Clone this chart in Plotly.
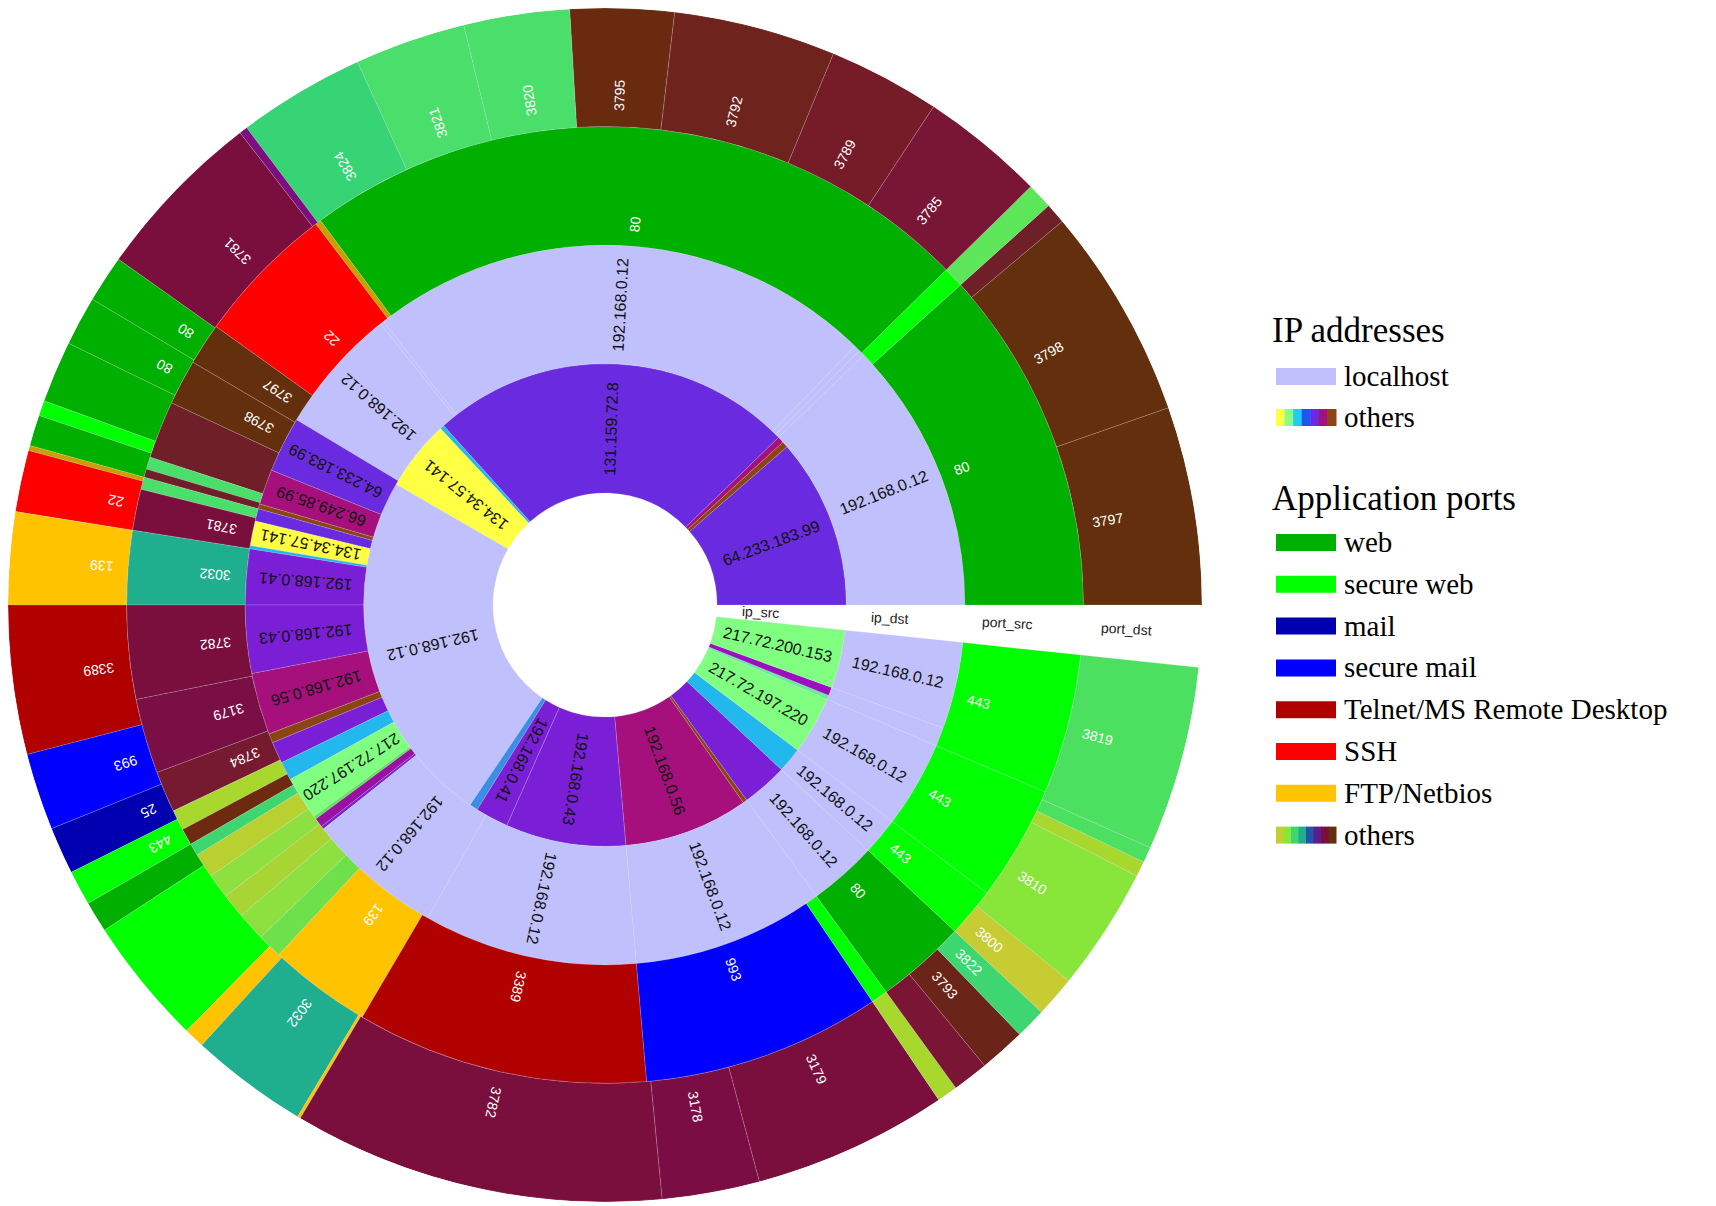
import math
import plotly.graph_objects as go

W, H = 1716, 1206
# ---------------- data (angular extents in degrees, counter-clockwise from east) -------------
LIL = "#c0c0fc"; P1 = "#6a2be0"; P2 = "#7a1fd6"; MAG = "#a5107c"; BRS = "#8b4513"
YEL = "#ffff44"; CYA = "#22b8ee"; LGR = "#80ff80"
WEB = "#00b000"; SWEB = "#00ff00"; MAIL = "#0000b0"; SMAIL = "#0000ff"
TEL = "#b00000"; SSH = "#ff0000"; FTP = "#ffc300"
BRN = "#632f0c"; MAR = "#7a0f3d"; TEAL = "#1fae8e"; LIME = "#a8d82e"; GRN2 = "#4ade6a"

ring1_labels = ["64.233.183.99", "", "", "131.159.72.8", "", "134.34.57.141", "192.168.0.12", "",
                "192.168.0.41", "192.168.0.43", "192.168.0.56", "", "", "", "217.72.197.220", "", "",
                "217.72.200.153"]
ring1_values = [41, 1.5, 1.5, 88, 1, 17, 86, 2, 8, 29, 30, 1, 11, 6, 14, 1, 2, 14]
ring1_colors = [P1, BRS, MAG, P1, CYA, YEL, LIL, "#3a8ee6", P2, P2, MAG, BRS, P2, CYA, LGR,
                "#66ee99", "#9a10c0", LGR]

ring2_labels = ["192.168.0.12", "", "", "192.168.0.12", "", "192.168.0.12", "64.233.183.99",
                "66.249.85.99", "", "", "134.34.57.141", "", "192.168.0.41", "192.168.0.43",
                "192.168.0.56", "", "", "", "217.72.197.220", "", "", "", "192.168.0.12",
                "192.168.0.12", "192.168.0.12", "192.168.0.12", "192.168.0.12", "192.168.0.12",
                "", "192.168.0.12"]
ring2_values = [44, 1, 1, 82, 0.6, 20.4, 9, 5.7, 0.8, 2, 4, 0.5, 9, 11, 10, 1.5, 3.5, 3, 7,
                0.5, 1.5, 0.5, 22, 34.5, 31, 11, 6, 14, 3, 14]
ring2_colors = [LIL, LIL, LIL, LIL, LIL, LIL, P1, MAG, BRS, P1, YEL, CYA, P2, P2, MAG, BRS, P2,
                CYA, LGR, "#5de65a", "#9a10a0", P2, LIL, LIL, LIL, LIL, LIL, LIL, LIL, LIL]

ring3_labels = ["80", "", "80", "", "22", "3797", "3798", "", "", "", "", "3781", "3032", "3782",
                "3179", "3784", "", "", "", "", "", "", "", "", "139", "3389", "993", "", "80",
                "443", "443", "443"]
ring3_values = [42, 2.5, 82, 0.7, 17.2, 5.1, 5.5, 7, 1.5, 1, 1.5, 5, 9, 11.4, 9.1, 5, 2.5, 2,
                1.5, 3, 3, 3, 3.5, 3, 12.5, 35.5, 29, 2, 11, 6, 14, 17]
ring3_colors = [WEB, SWEB, WEB, "#c8a000", SSH, BRN, BRN, "#6e1f28", GRN2, "#6e1f28", GRN2, MAR,
                TEAL, MAR, "#7a0f45", "#761a30", LIME, "#6e2a10", "#3ed670", "#b8d030",
                "#8ee040", "#a8d434", "#8ee040", "#6ee04a", FTP, TEL, SMAIL, SWEB, WEB, SWEB,
                SWEB, SWEB]

ring4_labels = ["3797", "3798", "", "", "3785", "3789", "3792", "3795", "3820", "3821", "3824",
                "", "3781", "80", "80", "", "", "", "", "22", "139", "3389", "993", "25", "443",
                "", "", "", "3032", "", "3782", "3178", "3179", "", "", "3793", "3822", "3800",
                "3810", "", "", "3819"]
ring4_values = [19.3, 20.7, 2, 2.5, 12.1, 10.9, 15.8, 10.1, 10.3, 10.8, 12.4, 0.8, 16.9, 4.6,
                4.8, 6, 1.5, 3, 0.5, 6, 9, 14.5, 7.5, 4.6, 3.4, 3, 12.5, 2, 11.5, 0.3, 36.2,
                9.5, 19, 2, 3.5, 4.5, 3, 4, 12, 1.5, 1.5, 18]
ring4_colors = [BRN, BRN, "#6e1f28", "#5de65a", "#791535", "#751c28", "#6e231c", "#6a2a10",
                GRN2, GRN2, "#37d476", "#7a1080", MAR, WEB, WEB, WEB, SWEB, WEB, "#c8a000",
                SSH, FTP, TEL, SMAIL, MAIL, SWEB, WEB, SWEB, FTP, TEAL, FTP, MAR, "#7b0d45",
                MAR, LIME, "#7a1535", "#6b2418", "#3ed670", "#c8cc33", "#88e63a", LIME,
                "#4ce060", "#4ce060"]

ring_edges = [104, 224, 334, 444, 554]
ring_names = ["ip_src", "ip_dst", "port_src", "port_dst"]

ip_legend = [("localhost", LIL)]
port_legend = [("web", WEB), ("secure web", SWEB), ("mail", MAIL), ("secure mail", SMAIL),
               ("Telnet/MS Remote Desktop", TEL), ("SSH", SSH), ("FTP/Netbios", FTP)]
ip_gradient = ["#ffff44", "#88ff88", "#22ccee", "#2255ee", "#6a2be0", "#a5107c", "#8b4513"]
port_gradient = ["#c8cc33", "#88e63a", "#3ed670", "#1fae8e", "#2255aa", "#5a1e8e", "#7a0f3d",
                 "#632f0c"]

# ---------------- figure ----------------
rings = [(ring1_labels, ring1_values, ring1_colors),
         (ring2_labels, ring2_values, ring2_colors),
         (ring3_labels, ring3_values, ring3_colors),
         (ring4_labels, ring4_values, ring4_colors)]

fig = go.Figure()
R = ring_edges[-1]
DOM = 1194
TOPPAD = 0
cx, cy = DOM / 2, TOPPAD + DOM / 2
scale = (DOM / 2) / R


def to_paper(r, ang):
    a = math.radians(ang)
    px = cx + r * scale * math.cos(a)
    py = cy - r * scale * math.sin(a)
    return px / W, 1 - py / H


annotations = []
for i, (labs, vals, cols) in enumerate(rings):
    inner, outer = ring_edges[i], ring_edges[i + 1]
    mids, start = [], 0.0
    for v in vals:
        mids.append(start + v / 2)
        start += v
    fig.add_trace(go.Barpolar(
        theta=mids, width=vals, base=[inner] * len(vals), r=[outer - inner] * len(vals),
        marker=dict(color=cols, line=dict(color="rgba(220,220,230,0.5)", width=0.4)),
        hoverinfo="skip", showlegend=False))
    for lab, m in zip(labs, mids):
        if not lab:
            continue
        if i < 2:
            rr = (inner + outer) / 2
            col, size = "#111111", 16
        else:
            rr = inner + 12 + 4.3 * len(lab)
            col, size = "white", 14
        x, y = to_paper(rr, m)
        annotations.append(dict(x=x, y=y, xref="paper", yref="paper", text=lab, showarrow=False,
                                xanchor="center", yanchor="middle",
                                textangle=-m, font=dict(family="Liberation Sans", size=size,
                                                        color=col)))

# ring name labels in the gap
for i, nm in enumerate(ring_names):
    x, y = to_paper(ring_edges[i] + 40, -2.6)
    annotations.append(dict(x=x, y=y, xref="paper", yref="paper", text=nm, showarrow=False,
                            xanchor="center", yanchor="middle",
                            textangle=3, font=dict(family="Liberation Sans", size=14,
                                                   color="#222")))

# legend
shapes = []
LX0, LX1, TX = 1268, 1328, 1334
DY = -9


def swatch(ypx, color=None, grad=None):
    ypx += DY
    y0 = 1 - (ypx + 9) / H
    y1 = 1 - (ypx - 8) / H
    if color:
        shapes.append(dict(type="rect", xref="paper", yref="paper", x0=LX0 / W, x1=LX1 / W,
                           y0=y0, y1=y1, fillcolor=color, line=dict(width=0)))
    else:
        n = len(grad)
        w = (LX1 - LX0) / n
        for k, c in enumerate(grad):
            shapes.append(dict(type="rect", xref="paper", yref="paper",
                               x0=(LX0 + k * w) / W, x1=(LX0 + (k + 1) * w + 0.5) / W,
                               y0=y0, y1=y1, fillcolor=c, line=dict(width=0)))


def text(ypx, s, size, x=TX):
    ypx += DY
    annotations.append(dict(x=x / W, y=1 - ypx / H, xref="paper", yref="paper", text=s,
                            showarrow=False, xanchor="left", yanchor="middle",
                            font=dict(family="Liberation Serif", size=size, color="black")))


text(332, "IP addresses", 35, x=1262)
y = 377
for nm, c in ip_legend:
    swatch(y, color=c); text(y, nm, 29); y += 41
swatch(y, grad=ip_gradient); text(y, "others", 29)
text(499, "Application ports", 35, x=1262)
y = 543
for nm, c in port_legend:
    swatch(y, color=c); text(y, nm, 29); y += 41.8
swatch(y, grad=port_gradient); text(y, "others", 29)

fig.update_layout(
    width=W, height=H, margin=dict(l=0, r=0, t=0, b=0), paper_bgcolor="white",
    plot_bgcolor="white", showlegend=False, annotations=annotations, shapes=shapes,
    polar=dict(domain=dict(x=[0, DOM / W], y=[1 - (TOPPAD + DOM) / H, 1 - TOPPAD / H]),
               bgcolor="white", bargap=0,
               radialaxis=dict(range=[0, R], visible=False, showgrid=False),
               angularaxis=dict(visible=False, rotation=0, direction="counterclockwise",
                                showgrid=False)))
fig.write_html("out.html")
